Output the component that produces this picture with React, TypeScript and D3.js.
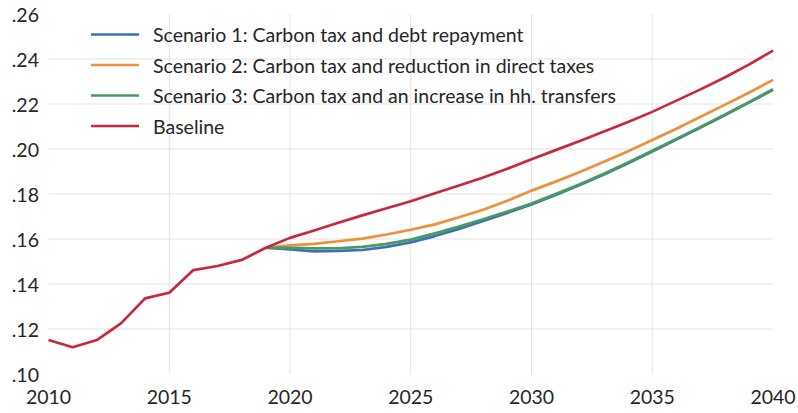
import React from "react";
import * as d3 from "d3";

const histYears = [2010, 2011, 2012, 2013, 2014, 2015, 2016, 2017, 2018, 2019];
const histValues = [0.1151, 0.1119, 0.1151, 0.1225, 0.1336, 0.1361, 0.1462, 0.148, 0.1507, 0.1561];

const projYears = [2019, 2020, 2021, 2022, 2023, 2024, 2025, 2026, 2027, 2028, 2029, 2030, 2031, 2032, 2033, 2034, 2035, 2036, 2037, 2038, 2039, 2040];
const baselineProj = [0.1561, 0.1605, 0.1638, 0.1672, 0.1705, 0.1737, 0.1768, 0.1803, 0.1838, 0.1873, 0.1912, 0.1954, 0.1995, 0.2036, 0.2078, 0.212, 0.2165, 0.2215, 0.2265, 0.2318, 0.2375, 0.2437];
const scenario1 = [0.1561, 0.1554, 0.1545, 0.1547, 0.1551, 0.1565, 0.1585, 0.1613, 0.1645, 0.168, 0.1716, 0.1753, 0.1796, 0.184, 0.1887, 0.1937, 0.1989, 0.2042, 0.2095, 0.215, 0.2206, 0.2263];
const scenario2 = [0.1561, 0.1572, 0.1578, 0.159, 0.1602, 0.162, 0.1641, 0.1665, 0.1697, 0.173, 0.177, 0.1815, 0.1855, 0.1898, 0.1943, 0.199, 0.204, 0.209, 0.2143, 0.2196, 0.225, 0.2307];
const scenario3 = [0.1561, 0.1561, 0.1558, 0.1559, 0.1565, 0.1578, 0.1597, 0.1625, 0.1655, 0.1688, 0.1722, 0.1758, 0.18, 0.1843, 0.189, 0.194, 0.1992, 0.2045, 0.2098, 0.2152, 0.2208, 0.2266];

const yTicks = [0.10, 0.12, 0.14, 0.16, 0.18, 0.20, 0.22, 0.24, 0.26];
const xTicks = [2010, 2015, 2020, 2025, 2030, 2035, 2040];

const seriesNames = [
  "Scenario 1: Carbon tax and debt repayment",
  "Scenario 2: Carbon tax and reduction in direct taxes",
  "Scenario 3: Carbon tax and an increase in hh. transfers",
  "Baseline",
];
const seriesColors = ["#3d6fbf", "#ee8f3a", "#4a9a5c", "#c9283a"];

export default function App() {
  const W = 798, H = 413;
  const x = d3.scaleLinear().domain([2010, 2040]).range([48.5, 773]);
  const y = d3.scaleLinear().domain([0.10, 0.26]).range([374, 14]);
  const line = d3.line<[number, number]>().x((d) => x(d[0])).y((d) => y(d[1]));
  const zip = (xs: number[], vs: number[]) => xs.map((v, i) => [v, vs[i]] as [number, number]);
  const fmt = (v: number) => d3.format(".2f")(v).replace(/^0/, "");

  const scenarios = [scenario1, scenario2, scenario3];
  const baselineAll = zip(histYears, histValues).concat(zip(projYears, baselineProj).slice(1));
  const font = "Lato, 'Open Sans', sans-serif";
  const txt = "#262626";

  return (
    <svg width={W} height={H} style={{ position: "absolute", left: 0, top: 0, background: "#fff" }}>
      <rect width={W} height={H} fill="#fff" />
      {yTicks.filter((t) => t > 0.105 && t < 0.255).map((t) => (
        <line key={"gy" + t} x1={x(2010)} x2={x(2040)} y1={y(t)} y2={y(t)} stroke="#e3e3e3" strokeWidth={1} />
      ))}
      {xTicks.filter((t) => t > 2010 && t < 2040).map((t) => (
        <line key={"gx" + t} x1={x(t)} x2={x(t)} y1={y(0.26)} y2={y(0.10)} stroke="#e3e3e3" strokeWidth={1} />
      ))}
      {yTicks.map((t) => (
        <text key={"ty" + t} x={39} y={y(t)} textAnchor="end" dominantBaseline="central"
          fontFamily={font} fontSize={19.5} fill={txt}>{fmt(t)}</text>
      ))}
      {xTicks.map((t) => (
        <text key={"tx" + t} x={x(t)} y={396} textAnchor="middle" dominantBaseline="central"
          fontFamily={font} fontSize={19.5} fill={txt}>{t}</text>
      ))}
      {scenarios.map((s, i) => (
        <path key={"s" + i} d={line(zip(projYears, s)) || ""} fill="none" stroke={seriesColors[i]}
          strokeWidth={2.7} strokeLinejoin="round" />
      ))}
      <path d={line(baselineAll) || ""} fill="none" stroke={seriesColors[3]} strokeWidth={2.7} strokeLinejoin="round" />
      {seriesNames.map((n, i) => (
        <g key={"lg" + i} transform={`translate(0, ${34.5 + i * 30.5})`}>
          <line x1={91} x2={139} y1={0} y2={0} stroke={seriesColors[i]} strokeWidth={2.7} />
          <text x={153} y={0} dominantBaseline="central" fontFamily={font} fontSize={19.5} fill={txt}>{n}</text>
        </g>
      ))}
    </svg>
  );
}
